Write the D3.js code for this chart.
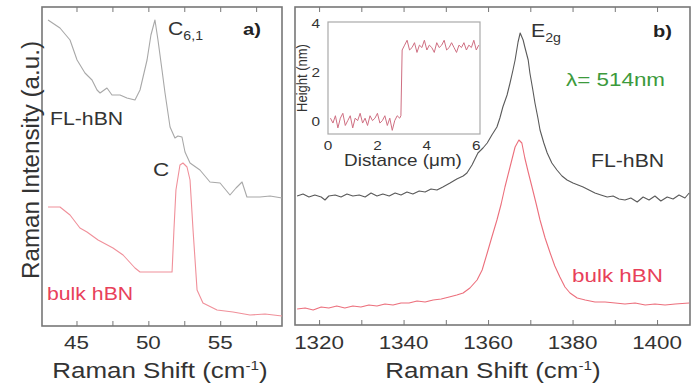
<!DOCTYPE html>
<html>
<head>
<meta charset="utf-8">
<script src="https://cdn.jsdelivr.net/npm/d3@7"></script>
<style>
  body { margin: 0; background: #fff; }
  text { font-family: "Liberation Sans", Arial, sans-serif; }
</style>
</head>
<body>
<div id="chart"></div>
<script>
// ---- panel a) low frequency shear modes
const lowShiftFL = [43.02, 43.85, 44.55, 45.04, 45.59, 46.08, 46.43, 46.64, 47.12, 47.47, 48.03, 48.51, 49.07, 49.42, 49.91, 50.18, 50.46, 50.67, 50.95, 51.16, 51.51, 51.85, 52.06, 52.34, 52.55, 52.90, 53.59, 54.29, 54.99, 55.68, 56.10, 56.52, 56.86, 57.77, 58.47, 59.30];
const lowIntFL = [30.6, 29.8, 28.6, 26.6, 25.3, 24.6, 23.6, 23.3, 23.8, 23.1, 23.1, 22.8, 22.6, 23.6, 26.6, 29.1, 30.6, 28.6, 25.6, 23.3, 19.9, 18.8, 19.0, 18.9, 17.4, 16.3, 15.6, 14.4, 14.3, 13.1, 13.8, 14.4, 12.9, 12.9, 13.0, 12.8];
const lowShiftBulk = [43.02, 43.85, 44.55, 45.24, 45.73, 46.50, 47.54, 48.24, 49.07, 49.42, 51.65, 51.78, 51.92, 52.20, 52.41, 52.69, 52.90, 53.11, 53.39, 53.80, 54.78, 55.89, 57.07, 58.12, 59.30];
const lowIntBulk = [11.9, 11.9, 11.1, 9.8, 9.4, 8.6, 7.8, 7.1, 5.8, 5.4, 5.4, 9.6, 13.6, 16.1, 16.3, 15.9, 14.6, 9.6, 3.6, 2.3, 1.6, 1.4, 1.1, 1.2, 1.0];

// ---- panel b) E2g mode
const hiShiftFL = [1314.8, 1316.2, 1317.6, 1319.0, 1320.5, 1321.4, 1322.3, 1323.8, 1325.2, 1326.6, 1328.0, 1329.5, 1330.9, 1332.3, 1333.7, 1335.1, 1336.6, 1338.0, 1339.4, 1340.8, 1342.2, 1343.7, 1345.1, 1346.5, 1347.9, 1349.3, 1351.0, 1352.6, 1354.1, 1355.0, 1356.2, 1357.6, 1358.8, 1359.8, 1360.9, 1362.1, 1362.8, 1363.5, 1364.5, 1365.2, 1365.9, 1366.4, 1367.1, 1367.6, 1368.3, 1368.7, 1369.5, 1369.9, 1370.6, 1371.1, 1371.8, 1372.3, 1373.2, 1374.0, 1375.1, 1376.3, 1377.5, 1378.7, 1380.1, 1381.3, 1382.5, 1383.9, 1385.3, 1386.7, 1388.2, 1389.6, 1391.0, 1392.4, 1393.8, 1395.3, 1396.7, 1398.1, 1399.5, 1400.9, 1402.4, 1403.8, 1405.2, 1406.6, 1407.6];
const hiIntFL = [12.9, 13.1, 12.8, 13.0, 12.8, 12.5, 12.9, 13.0, 12.8, 13.1, 12.9, 13.0, 12.8, 13.2, 12.9, 13.1, 12.9, 13.2, 13.0, 13.3, 13.1, 13.4, 13.3, 13.6, 13.5, 13.8, 14.2, 14.6, 14.9, 15.2, 16.0, 17.2, 17.7, 18.2, 19.0, 19.8, 20.7, 21.8, 23.0, 24.2, 25.5, 26.5, 28.3, 29.2, 28.5, 27.8, 26.5, 25.2, 23.5, 22.2, 20.7, 19.5, 18.2, 17.2, 16.2, 15.5, 14.9, 14.5, 14.2, 14.0, 13.8, 13.5, 13.2, 13.0, 12.8, 12.9, 12.6, 12.5, 12.7, 12.3, 12.8, 12.5, 12.9, 12.4, 12.8, 12.6, 13.0, 12.7, 13.2];
const hiShiftBulk = [1314.8, 1316.7, 1318.6, 1320.5, 1322.3, 1324.2, 1326.1, 1328.0, 1329.9, 1331.8, 1333.7, 1335.6, 1337.5, 1339.4, 1341.3, 1343.2, 1345.1, 1347.0, 1348.9, 1350.8, 1352.6, 1354.1, 1355.7, 1357.4, 1358.6, 1359.8, 1360.9, 1362.1, 1363.1, 1364.0, 1365.2, 1366.4, 1367.3, 1368.0, 1368.7, 1369.5, 1370.4, 1371.4, 1372.3, 1373.5, 1374.7, 1375.8, 1377.0, 1378.2, 1379.4, 1381.1, 1383.0, 1385.3, 1387.7, 1390.1, 1392.4, 1394.8, 1397.2, 1399.5, 1401.9, 1404.3, 1407.6];
const hiIntBulk = [1.6, 1.7, 1.5, 1.8, 1.7, 1.9, 1.7, 1.9, 1.8, 2.0, 1.9, 2.1, 2.0, 2.2, 2.2, 2.4, 2.3, 2.5, 2.6, 2.8, 3.0, 3.2, 3.7, 4.5, 5.5, 7.2, 8.8, 10.5, 12.1, 13.8, 15.8, 17.8, 18.5, 18.2, 16.7, 15.3, 13.8, 12.1, 10.5, 8.7, 7.2, 5.9, 4.8, 3.8, 3.2, 2.7, 2.5, 2.3, 2.3, 2.2, 2.1, 2.2, 2.0, 2.1, 2.0, 2.1, 2.2];

// ---- inset: AFM height profile
const distance = [0.1, 0.2, 0.3, 0.4, 0.5, 0.6, 0.7, 0.8, 0.9, 1.0, 1.1, 1.2, 1.3, 1.4, 1.5, 1.6, 1.7, 1.8, 1.9, 2.0, 2.1, 2.2, 2.3, 2.4, 2.5, 2.6, 2.7, 2.8, 2.9, 2.95, 3.0, 3.1, 3.2, 3.3, 3.4, 3.5, 3.6, 3.7, 3.8, 3.9, 4.0, 4.1, 4.2, 4.3, 4.4, 4.5, 4.6, 4.7, 4.8, 4.9, 5.0, 5.1, 5.2, 5.3, 5.4, 5.5, 5.6, 5.7, 5.8, 5.9, 6.0, 6.1];
const height = [0.1, -0.1, 0.2, -0.3, 0.1, 0.3, -0.2, 0.0, 0.2, -0.3, 0.1, 0.0, 0.3, -0.1, 0.1, -0.2, 0.2, 0.0, 0.1, 0.3, -0.1, 0.0, 0.2, -0.2, 0.1, -0.4, 0.0, 0.2, 0.1, 0.2, 2.9, 3.1, 3.3, 2.9, 3.0, 3.2, 2.8, 3.1, 3.0, 3.3, 2.9, 3.1, 3.0, 2.8, 3.2, 3.0, 3.1, 3.3, 2.9, 3.0, 3.2, 3.0, 2.8, 3.1, 3.0, 3.2, 2.9, 3.1, 3.0, 3.3, 2.9, 3.1];

const lowTicks = [45, 47.5, 50, 52.5, 55, 57.5];
const lowLabels = [45, 50, 55];
const hiTicks = [1320, 1330, 1340, 1350, 1360, 1370, 1380, 1390, 1400];
const hiLabels = [1320, 1340, 1360, 1380, 1400];
const insetXTicks = [0, 2, 4, 6];
const insetYTicks = [0, 2, 4];

const W = 699, H = 391;
const stretch = 1.18; // the original figure is a bit wider than tall
const grey = '#777';

const svg = d3.select('#chart').append('svg')
  .attr('width', W).attr('height', H);

// stretched text helper
function label(g, x, y, str, size, opts = {}) {
  const t = g.append('text')
    .attr('transform', `translate(${x},${y}) scale(${stretch},1)`)
    .attr('font-size', size)
    .attr('fill', opts.fill || '#333')
    .attr('font-weight', opts.bold ? 'bold' : null)
    .attr('text-anchor', opts.anchor || 'start');
  return t;
}

// panel a
const xa = d3.scaleLinear().domain([42.6, 59.3]).range([42, 282]);
const ya = d3.scaleLinear().domain([0, 31.9]).range([326, 7]);
// panel b
const xb = d3.scaleLinear().domain([1314.3, 1407.8]).range([295, 690]);
const yb = d3.scaleLinear().domain([0, 31.8]).range([325, 7]);

function frame(x, y, ticks) {
  const g = svg.append('g');
  g.append('rect')
    .attr('x', x.range()[0]).attr('y', y.range()[1])
    .attr('width', x.range()[1] - x.range()[0])
    .attr('height', y.range()[0] - y.range()[1])
    .attr('fill', 'none').attr('stroke', grey).attr('stroke-width', 1.6);
  const bottom = d3.axisBottom(x).tickValues(ticks).tickSize(-5).tickFormat('');
  g.append('g').attr('transform', `translate(0,${y.range()[0]})`).call(bottom)
    .call(s => s.select('.domain').remove())
    .call(s => s.selectAll('line').attr('stroke', grey));
  const top = d3.axisTop(x).tickValues(ticks).tickSize(-5).tickFormat('');
  g.append('g').attr('transform', `translate(0,${y.range()[1]})`).call(top)
    .call(s => s.select('.domain').remove())
    .call(s => s.selectAll('line').attr('stroke', grey));
  return g;
}

frame(xa, ya, lowTicks);
frame(xb, yb, hiTicks);

function curve(x, y, xs, ys, color, w) {
  const line = d3.line().x(d => x(d[0])).y(d => y(d[1]));
  svg.append('path')
    .datum(xs.map((v, i) => [v, ys[i]]))
    .attr('d', line)
    .attr('fill', 'none')
    .attr('stroke', color)
    .attr('stroke-width', w)
    .attr('stroke-linejoin', 'round');
}

curve(xa, ya, lowShiftFL, lowIntFL, '#a8a8a8', 1.1);
curve(xa, ya, lowShiftBulk, lowIntBulk, '#f0909a', 1.1);
curve(xb, yb, hiShiftFL, hiIntFL, '#5a5a5a', 1.1);
curve(xb, yb, hiShiftBulk, hiIntBulk, '#ec6f7c', 1.1);

// tick labels
const labs = svg.append('g');
lowLabels.forEach(v => label(labs, xa(v), 349, v, 19, { anchor: 'middle' }).text(v));
hiLabels.forEach(v => label(labs, xb(v), 349, v, 19, { anchor: 'middle' }).text(v));

// axis titles
function shiftTitle(cx) {
  const t = label(labs, cx, 378, '', 22, { anchor: 'middle' });
  t.append('tspan').text('Raman Shift (cm');
  t.append('tspan').attr('dy', -8).attr('font-size', 13).text('-1');
  t.append('tspan').attr('dy', 8).text(')');
}
shiftTitle(160);
shiftTitle(493);

labs.append('text')
  .attr('transform', 'translate(39,160) rotate(-90) scale(1.1,1.12)')
  .attr('text-anchor', 'middle')
  .attr('font-size', 22)
  .attr('fill', '#333')
  .text('Raman Intensity (a.u.)');

// panel annotations
const c61 = label(labs, 168, 35, '', 18);
c61.append('tspan').text('C');
c61.append('tspan').attr('dy', 5).attr('font-size', 12).text('6,1');
label(labs, 153, 176, 'C', 19).text('C');
label(labs, 50, 125, '', 18).text('FL-hBN');
label(labs, 47, 300, '', 18, { fill: '#e8405a' }).text('bulk hBN');
label(labs, 243, 35, '', 17, { bold: true, fill: '#222' }).text('a)');

const e2g = label(labs, 531, 37, '', 18);
e2g.append('tspan').text('E');
e2g.append('tspan').attr('dy', 5).attr('font-size', 12).text('2g');
label(labs, 653, 37, '', 17, { bold: true, fill: '#222' }).text('b)');
label(labs, 566, 86, '', 19, { fill: '#3c9a3c' }).text('λ= 514nm');
label(labs, 591, 167, '', 18).text('FL-hBN');
label(labs, 572, 282, '', 19, { fill: '#e8405a' }).text('bulk hBN');

// inset
const xi = d3.scaleLinear().domain([0, 6.15]).range([328, 480]);
const yi = d3.scaleLinear().domain([-0.55, 4.05]).range([134, 22]);
svg.append('rect')
  .attr('x', 328).attr('y', 22).attr('width', xi.range()[1] - xi.range()[0])
  .attr('height', yi.range()[0] - yi.range()[1])
  .attr('fill', '#fff').attr('stroke', '#aaa').attr('stroke-width', 1.2);
const insetLine = d3.line().x((d, i) => xi(distance[i])).y(d => yi(d));
svg.append('path').datum(height)
  .attr('d', insetLine)
  .attr('fill', 'none').attr('stroke', '#cf6f82').attr('stroke-width', 1);
insetXTicks.forEach(v => label(labs, xi(v), 150, '', 13, { anchor: 'middle' }).text(v));
insetYTicks.forEach(v => label(labs, 320, yi(v) + 5, '', 13, { anchor: 'end' }).text(v));
labs.append('text')
  .attr('transform', 'translate(307,78) rotate(-90) scale(1,1.15)')
  .attr('text-anchor', 'middle').attr('font-size', 13).attr('fill', '#333')
  .text('Height (nm)');
label(labs, 403, 166, '', 16, { anchor: 'middle' }).text('Distance (μm)');
</script>
</body>
</html>
